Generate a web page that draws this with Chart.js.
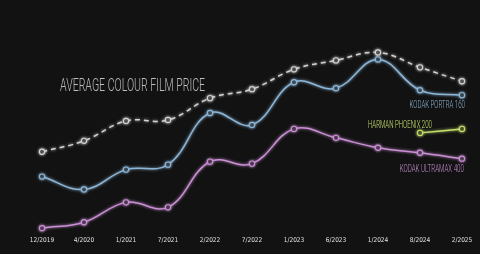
<!DOCTYPE html>
<html>
<head>
<meta charset="utf-8">
<script src="https://cdn.jsdelivr.net/npm/chart.js@4/dist/chart.umd.min.js"></script>
<style>
  html, body { margin: 0; padding: 0; background: #121212; }
  #wrap { width: 480px; height: 254px; }
</style>
</head>
<body>
<div id="wrap"><canvas id="filmChart"></canvas></div>
<script>
// film prices (GBP)
const labels = ['12/2019', '4/2020', '1/2021', '7/2021', '2/2022', '7/2022', '1/2023', '6/2023', '1/2024', '8/2024', '2/2025'];
const averagePrice = [12.2, 13.3, 15.3, 15.4, 17.6, 18.5, 20.5, 21.4, 22.2, 20.7, 19.3];
const portra160 = [9.7, 8.4, 10.4, 10.9, 16.1, 14.9, 19.2, 18.6, 21.5, 18.4, 17.9];
const phoenix200 = [null, null, null, null, null, null, null, null, null, 14.1, 14.5];
const ultramax400 = [4.5, 5.1, 7.1, 6.6, 11.2, 11.0, 14.5, 13.6, 12.6, 12.1, 11.5];

const bg = '#121212';
const grey = '#d2d2d2';
const blue = '#8db6d6';
const green = '#c6e06c';
const purple = '#c98fd3';

/* GLOW + TEXT LABELS */
const glow = {
  id: 'glow',
  beforeDatasetDraw(chart, args) {
    const ds = chart.data.datasets[args.index];
    chart.ctx.save();
    chart.ctx.shadowColor = ds.borderColor;
    chart.ctx.shadowBlur = 3;
  },
  afterDatasetDraw(chart) {
    chart.ctx.restore();
  },
};

function narrowText(ctx, text, x, y, size, color, align, sx) {
  ctx.save();
  ctx.font = '300 ' + size + 'px Roboto';
  ctx.fillStyle = color;
  ctx.textBaseline = 'alphabetic';
  const w = ctx.measureText(text).width * sx;
  const left = align === 'right' ? x - w : x;
  ctx.translate(left, y);
  ctx.scale(sx, 1);
  ctx.fillText(text, 0, 0);
  ctx.restore();
}

const seriesLabels = {
  id: 'seriesLabels',
  afterDatasetsDraw(chart) {
    const ctx = chart.ctx;
    const pt = (i, k) => chart.getDatasetMeta(i).data[k];
    narrowText(ctx, 'AVERAGE COLOUR FILM PRICE', 60, 91, 18.5, '#bdbdbd', 'left', 0.57);
    const p = pt(1, 10);
    narrowText(ctx, 'KODAK PORTRA 160', p.x + 3, p.y + 13, 11.5, blue, 'right', 0.53);
    const h = pt(2, 9);
    narrowText(ctx, 'HARMAN PHOENIX 200', h.x + 12, h.y - 5, 11.5, green, 'right', 0.53);
    const u = pt(3, 10);
    narrowText(ctx, 'KODAK ULTRAMAX 400', u.x + 2, u.y + 13, 11.5, purple, 'right', 0.54);
  },
};

function series(label, data, color, dashed) {
  return {
    label: label,
    data: data,
    borderColor: color,
    borderWidth: 1.5,
    borderDash: dashed ? [5, 4] : [],
    tension: 0.4,
    pointRadius: 2.6,
    pointBorderWidth: 1.1,
    pointBorderColor: color,
    pointBackgroundColor: bg,
    clip: false,
  };
}

new Chart(document.getElementById('filmChart'), {
  type: 'line',
  data: {
    labels: labels,
    datasets: [
      series('Average', averagePrice, grey, true),
      series('Kodak Portra 160', portra160, blue, false),
      series('Harman Phoenix 200', phoenix200, green, false),
      series('Kodak Ultramax 400', ultramax400, purple, false),
    ],
  },
  options: {
    responsive: true,
    maintainAspectRatio: false,
    animation: false,
    layout: { padding: { left: 42, right: 18, top: 33, bottom: 8 } },
    plugins: {
      legend: { display: false },
      tooltip: { enabled: false },
    },
    scales: {
      x: {
        offset: false,
        grid: { display: false },
        border: { display: false },
        ticks: {
          color: '#e0e0e0',
          font: { family: "'Liberation Sans Narrow', 'DejaVu Sans Condensed', Roboto, sans-serif", size: 6.5 },
          padding: 2,
          maxRotation: 0,
          autoSkip: false,
        },
      },
      y: {
        display: false,
        min: 4.7,
        max: 24.16,
      },
    },
  },
  plugins: [glow, seriesLabels],
});
</script>
</body>
</html>
